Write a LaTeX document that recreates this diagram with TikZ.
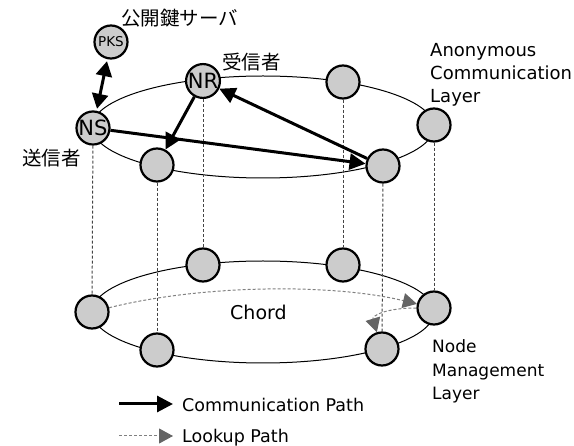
\documentclass[tikz,border=0pt]{standalone}
\usepackage{fontspec}
\setmainfont{DejaVu Sans}
\newfontfamily\jpfont{Noto Sans CJK JP}
\usetikzlibrary{arrows.meta}
\definecolor{nodefill}{HTML}{CCCCCC}
\definecolor{guide}{HTML}{444444}
\definecolor{lookupline}{HTML}{808080}
\definecolor{lookuptip}{HTML}{646464}
\begin{document}
\begin{tikzpicture}[x=1pt,y=-1pt,
  peer/.style={circle,draw=black,line width=2.2pt,fill=nodefill,minimum size=33pt,inner sep=0pt},
  bigid/.style={font=\fontsize{21}{21}\selectfont},
  ring/.style={line width=1pt},
  guideline/.style={draw=guide,line width=1pt,dash pattern=on 3pt off 2pt},
  commpath/.style={line width=3pt,-{Triangle[length=16pt,width=16pt]}},
  lookup/.style={draw=lookupline,line width=1pt,dash pattern=on 3pt off 2pt,
    -{Triangle[length=14pt,width=15pt,color=lookuptip]}},
  lbl/.style={font=\fontsize{18}{20}\selectfont,anchor=base west,inner sep=0pt},
  jlbl/.style={font=\jpfont\fontsize{19.5}{22}\selectfont,anchor=west,inner sep=0pt},
]
\useasboundingbox (0,0) rectangle (574,446);

% the two rings
\draw[ring] (263,127) ellipse [x radius=171pt, y radius=51pt];
\draw[ring] (263,312) ellipse [x radius=171pt, y radius=51pt];

% anonymous communication layer
\node[peer,font=\fontsize{13.5}{13.5}\selectfont] (pks) at (111,42) {PKS};
\node[peer,bigid] (ns) at (93,128) {NS};
\node[peer,bigid] (nr) at (203,81) {NR};
\node[peer] (ta) at (343,82) {};
\node[peer] (tb) at (434,125) {};
\node[peer] (tc) at (383,166) {};
\node[peer] (td) at (157,165) {};

% node management layer
\node[peer] (ba) at (92,312) {};
\node[peer] (bb) at (203,265) {};
\node[peer] (bc) at (343,265) {};
\node[peer] (bd) at (434,308) {};
\node[peer] (be) at (382,349) {};
\node[peer] (bf) at (157,350) {};

% vertical correspondences
\draw[guideline] (ns) -- (ba);
\draw[guideline] (td) -- (bf);
\draw[guideline] (nr) -- (bb);
\draw[guideline] (ta) -- (bc);
\draw[guideline] (tc) -- (be);
\draw[guideline] (tb) -- (bd);

% communication paths
\draw[line width=3pt,{Triangle[length=15pt,width=16pt]}-{Triangle[length=15pt,width=16pt]},
  shorten <=2pt, shorten >=2pt] (pks) -- (ns);
\draw[commpath] (ns) -- (tc);
\draw[commpath] (tc) -- (nr);
\draw[commpath] (nr) -- (td);

% lookup paths
\draw[lookup] (ba) .. controls (200,285) and (330,283) .. (bd);
\draw[lookup] (bd) .. controls (385,308) and (372,316) .. (be);

% labels
\node[jlbl] (lpks) at (121,18) {公開鍵サーバ};
\node[jlbl] (lnr) at (222,62) {受信者};
\node[jlbl] (lns) at (22,158) {送信者};

\node[lbl] (acl1) at (430,57) {Anonymous};
\node[lbl] (acl2) at (430,80) {Communication};
\node[lbl] (acl3) at (430,103) {Layer};

\node[lbl,font=\fontsize{17}{20}\selectfont] (nml1) at (432,353) {Node};
\node[lbl,font=\fontsize{17}{20}\selectfont] (nml2) at (432,377) {Management};
\node[lbl,font=\fontsize{17}{20}\selectfont] (nml3) at (432,400) {Layer};

\node[lbl,font=\fontsize{19}{20}\selectfont] (chord) at (230,320) {Chord};

% legend
\coordinate (k1) at (119,404);
\coordinate (k2) at (173,404);
\coordinate (k3) at (119,436);
\coordinate (k4) at (173,436);
\draw[commpath] (k1) -- (k2);
\draw[lookup] (k3) -- (k4);
\node[lbl,font=\fontsize{17.5}{20}\selectfont] (kcomm) at (182,412) {Communication Path};
\node[lbl,font=\fontsize{17.5}{20}\selectfont] (klook) at (182,443) {Lookup Path};
\end{tikzpicture}
\end{document}
